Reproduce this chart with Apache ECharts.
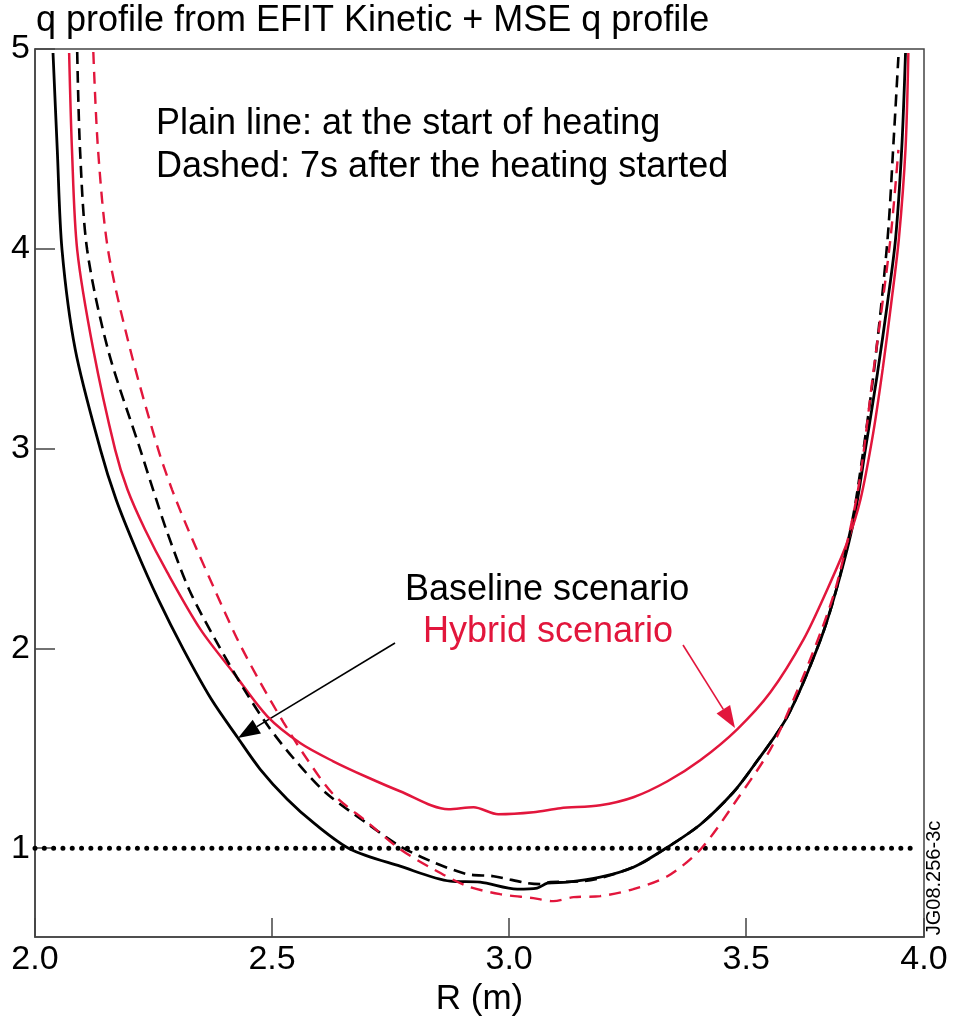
<!DOCTYPE html>
<html>
<head>
<meta charset="utf-8">
<title>q profile</title>
<script src="https://cdn.jsdelivr.net/npm/echarts@6/dist/echarts.min.js"></script>
<style>
  html, body { margin: 0; padding: 0; background: #fff; }
  #chart { width: 953px; height: 1022px; }
</style>
</head>
<body>
<div id="chart"></div>
<script>
// q profiles (R in m, q)
var baseStartR = [2.038, 2.047, 2.057, 2.085, 2.138, 2.171, 2.213, 2.260, 2.313, 2.372, 2.427, 2.475, 2.532, 2.591, 2.665, 2.770, 2.876, 2.939, 3.017, 3.059, 3.081, 3.123, 3.192, 3.262, 3.334, 3.404, 3.473, 3.515, 3.587, 3.657, 3.692, 3.726, 3.753, 3.777, 3.798, 3.815, 3.828, 3.836];
var baseStartQ = [4.98, 4.495, 3.995, 3.495, 2.995, 2.745, 2.495, 2.245, 1.995, 1.745, 1.555, 1.395, 1.245, 1.12, 0.995, 0.91, 0.835, 0.83, 0.795, 0.80, 0.825, 0.83, 0.855, 0.905, 1.005, 1.12, 1.28, 1.41, 1.66, 2.045, 2.31, 2.63, 3.02, 3.38, 3.73, 4.05, 4.50, 4.98];

var hybStartR = [2.072, 2.078, 2.089, 2.123, 2.169, 2.195, 2.232, 2.279, 2.349, 2.418, 2.490, 2.560, 2.629, 2.701, 2.770, 2.872, 2.925, 2.977, 3.051, 3.108, 3.192, 3.262, 3.334, 3.403, 3.481, 3.551, 3.621, 3.671, 3.713, 3.741, 3.768, 3.788, 3.806, 3.822, 3.836, 3.842];
var hybStartQ = [4.98, 4.495, 3.995, 3.495, 2.995, 2.795, 2.595, 2.38, 2.095, 1.88, 1.66, 1.525, 1.435, 1.355, 1.285, 1.195, 1.205, 1.17, 1.18, 1.20, 1.215, 1.255, 1.335, 1.44, 1.595, 1.78, 2.045, 2.295, 2.53, 2.745, 3.08, 3.40, 3.73, 4.05, 4.50, 4.98];

var base7sR = [2.089, 2.095, 2.110, 2.154, 2.222, 2.249, 2.279, 2.325, 2.380, 2.441, 2.492, 2.547, 2.612, 2.697, 2.770, 2.840, 2.912, 2.967, 3.038, 3.066, 3.087, 3.157, 3.262, 3.334, 3.404, 3.473, 3.515, 3.587, 3.657, 3.692, 3.720, 3.735, 3.769, 3.798, 3.811, 3.821];
var base7sQ = [4.985, 4.495, 3.995, 3.495, 2.995, 2.795, 2.58, 2.295, 2.045, 1.795, 1.61, 1.445, 1.28, 1.13, 1.01, 0.93, 0.87, 0.86, 0.825, 0.82, 0.83, 0.835, 0.905, 1.005, 1.12, 1.28, 1.41, 1.66, 2.045, 2.31, 2.595, 2.795, 3.38, 4.045, 4.545, 4.96];

var hyb7sR = [2.123, 2.133, 2.154, 2.201, 2.260, 2.289, 2.323, 2.376, 2.427, 2.475, 2.524, 2.574, 2.629, 2.701, 2.770, 2.840, 2.912, 2.981, 3.051, 3.093, 3.136, 3.192, 3.262, 3.334, 3.404, 3.481, 3.551, 3.600, 3.657, 3.692, 3.736, 3.768, 3.804, 3.821];
var hyb7sQ = [4.985, 4.495, 3.995, 3.495, 2.995, 2.795, 2.595, 2.31, 2.045, 1.83, 1.63, 1.445, 1.27, 1.13, 0.995, 0.895, 0.81, 0.77, 0.75, 0.735, 0.755, 0.76, 0.795, 0.86, 0.995, 1.245, 1.495, 1.745, 2.08, 2.33, 2.795, 3.38, 4.045, 4.495];

var qOneR = [2.0, 3.865];
var qOneQ = [1, 1];

var xTickLabels = ['2.0', '2.5', '3.0', '3.5', '4.0'];
var yTickLabels = ['1', '2', '3', '4', '5'];

var RED = '#e2163c';
var FONT = '"Liberation Sans", Arial, sans-serif';

function zip(xs, ys) {
    return xs.map(function (x, i) { return [x, ys[i]]; });
}

// small arrow: line plus a filled head at (x2, y2)
function arrow(x1, y1, x2, y2, color) {
    var dx = x2 - x1, dy = y2 - y1;
    var len = Math.sqrt(dx * dx + dy * dy);
    var ux = dx / len, uy = dy / len;
    var hl = 22, hw = 8;
    var bx = x2 - ux * hl, by = y2 - uy * hl;
    return [
        { type: 'line', shape: { x1: x1, y1: y1, x2: bx, y2: by }, style: { stroke: color, lineWidth: 1.6 } },
        { type: 'polygon', shape: { points: [[x2, y2], [bx - uy * hw, by + ux * hw], [bx + uy * hw, by - ux * hw]] }, style: { fill: color } }
    ];
}

var myChart = echarts.init(document.getElementById('chart'));

function textEl(str, x, y, color) {
    return {
        type: 'text', x: x, y: y,
        style: { text: str, font: '36px ' + FONT, fill: color, align: 'left', verticalAlign: 'middle' }
    };
}

var graphics = [
    textEl('q profile from EFIT Kinetic + MSE q profile', 36, 21, '#000'),
    textEl('Plain line: at the start of heating', 156, 124, '#000'),
    textEl('Dashed: 7s after the heating started', 156, 167, '#000'),
    textEl('Baseline scenario', 405, 590, '#000'),
    textEl('Hybrid scenario', 423, 632, RED),
    {
        type: 'text', x: 934, y: 878, rotation: Math.PI / 2,
        style: { text: 'JG08.256-3c', font: '20px ' + FONT, fill: '#000', align: 'center', verticalAlign: 'middle' }
    }
].concat(arrow(395, 643, 238, 738, '#000')).concat(arrow(683, 645, 735, 728, RED));

var option = {
    animation: false,
    backgroundColor: '#fff',
    grid: {
        left: 35, right: 29, top: 49, bottom: 84,
        show: true, borderColor: '#444', borderWidth: 1.5
    },
    xAxis: {
        type: 'value',
        min: 2.0,
        max: 3.875,
        interval: 0.5,
        name: 'R (m)',
        nameLocation: 'middle',
        nameGap: 42,
        nameTextStyle: { fontSize: 35, color: '#000', fontFamily: FONT },
        splitLine: { show: false },
        axisLine: { lineStyle: { color: '#444', width: 1.5 } },
        axisTick: { inside: true, length: 19, lineStyle: { color: '#444', width: 1.5 } },
        axisLabel: {
            fontSize: 34, color: '#000', fontFamily: FONT, margin: 6,
            showMinLabel: true, showMaxLabel: true,
            formatter: function (v) {
                var i = Math.round((v - 2) / 0.5);
                if (v > 3.8) i = 4;
                return xTickLabels[i];
            }
        }
    },
    yAxis: {
        type: 'value',
        min: 0.555,
        max: 5,
        minInterval: 1,
        maxInterval: 1,
        splitLine: { show: false },
        axisLine: { lineStyle: { color: '#444', width: 1.5 } },
        axisTick: { inside: true, length: 20, lineStyle: { color: '#444', width: 1.5 } },
        axisLabel: {
            fontSize: 34, color: '#000', fontFamily: FONT, margin: 5,
            showMinLabel: false,
            formatter: function (v) {
                if (Math.abs(v - Math.round(v)) > 1e-6) return '';
                return yTickLabels[Math.round(v) - 1] || '';
            }
        }
    },
    series: [
        {
            name: 'q = 1', type: 'line', data: zip(qOneR, qOneQ), showSymbol: false, silent: true,
            lineStyle: { color: '#000', width: 5, type: [0.01, 9.3], cap: 'round' }
        },
        {
            name: 'Baseline start', type: 'line', data: zip(baseStartR, baseStartQ), showSymbol: false, smooth: 0.3,
            lineStyle: { color: '#000', width: 2.8 }
        },
        {
            name: 'Hybrid start', type: 'line', data: zip(hybStartR, hybStartQ), showSymbol: false, smooth: 0.3,
            lineStyle: { color: RED, width: 2.5 }
        },
        {
            name: 'Baseline 7s', type: 'line', data: zip(base7sR, base7sQ), showSymbol: false, smooth: 0.3,
            lineStyle: { color: '#000', width: 2.6, type: [12, 7] }
        },
        {
            name: 'Hybrid 7s', type: 'line', data: zip(hyb7sR, hyb7sQ), showSymbol: false, smooth: 0.3,
            lineStyle: { color: RED, width: 2.4, type: [12, 8] }
        }
    ],
    graphic: graphics
};

myChart.setOption(option);
</script>
</body>
</html>
